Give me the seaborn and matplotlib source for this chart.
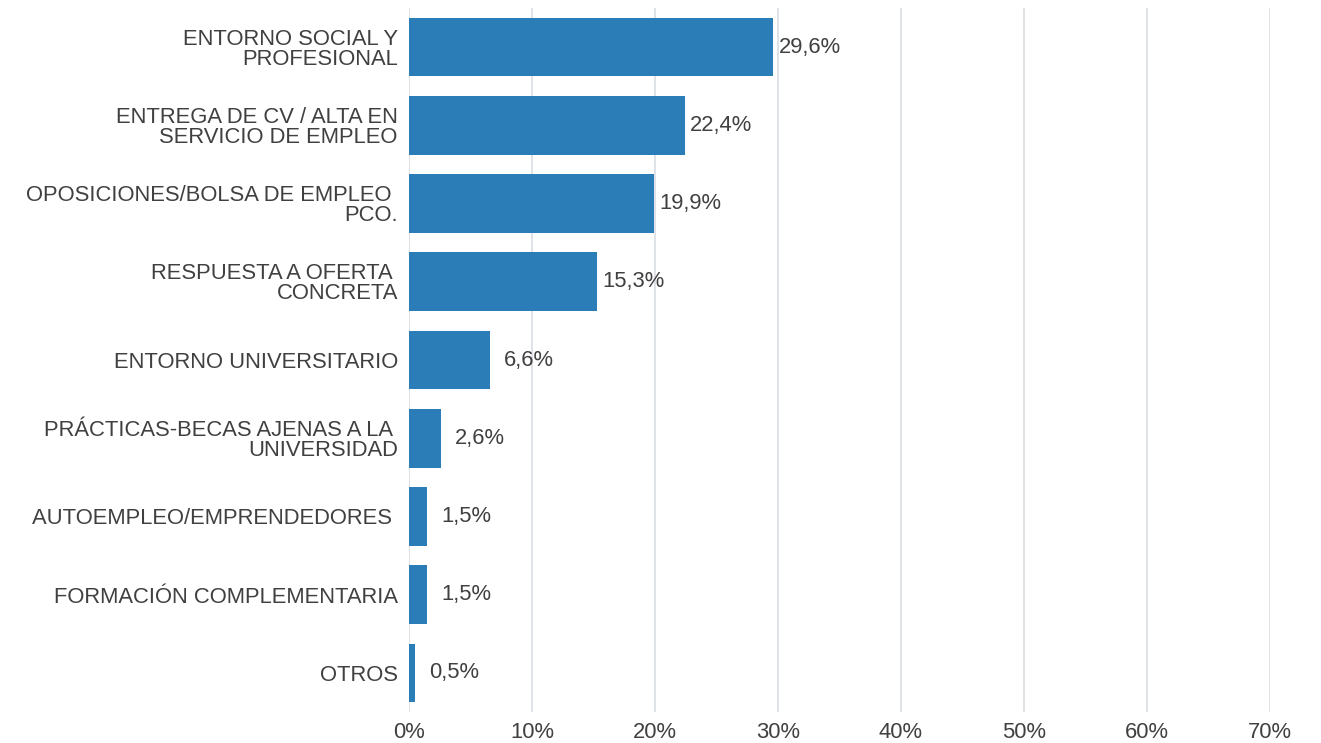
import matplotlib
matplotlib.use("Agg")
import matplotlib.pyplot as plt
import seaborn as sns
import pandas as pd

categories = [
    "ENTORNO SOCIAL Y\nPROFESIONAL",
    "ENTREGA DE CV / ALTA EN\nSERVICIO DE EMPLEO",
    "OPOSICIONES/BOLSA DE EMPLEO \nPCO.",
    "RESPUESTA A OFERTA \nCONCRETA",
    "ENTORNO UNIVERSITARIO",
    "PRÁCTICAS-BECAS AJENAS A LA \nUNIVERSIDAD",
    "AUTOEMPLEO/EMPRENDEDORES ",
    "FORMACIÓN COMPLEMENTARIA",
    "OTROS",
]
values = [29.6, 22.4, 19.9, 15.3, 6.6, 2.6, 1.5, 1.5, 0.5]
x_ticks = [0, 10, 20, 30, 40, 50, 60, 70]

BAR = "#2a7db6"
TEXT = "#404040"
GRID = "#d9dde3"
FS = 15.8

sns.set_theme(style="whitegrid")
plt.rcParams["font.family"] = ["Liberation Sans", "DejaVu Sans"]

df = pd.DataFrame({"cat": categories, "val": values})

fig = plt.figure(figsize=(13.21, 7.43), dpi=100)
ax = fig.add_axes([0.3096, 0.0417, 0.6518, 0.9475])

sns.barplot(data=df, y="cat", x="val", orient="h", color=BAR,
            saturation=1, width=0.75, linewidth=0, ax=ax)

ax.set_xlim(0, 70)
ax.set_ylim(len(categories) - 0.5, -0.5)
ax.set_xticks(x_ticks)
ax.set_xticklabels([f"{t}%" for t in x_ticks])
ax.set_xlabel("")
ax.set_ylabel("")

ax.grid(axis="x", color=GRID, linewidth=1.2)
ax.grid(axis="y", visible=False)
ax.set_axisbelow(True)
for s in ax.spines.values():
    s.set_visible(False)

ax.tick_params(axis="y", length=0, pad=8, labelsize=FS, labelcolor=TEXT)
ax.tick_params(axis="x", length=0, pad=7, labelsize=FS, labelcolor=TEXT)
for lbl in ax.get_yticklabels():
    lbl.set_linespacing(0.95)

# value labels at the end of each bar
for bar, v in zip(ax.patches, values):
    offset = 4 if v >= 10 else 10
    ax.annotate(f"{v:.1f}%".replace(".", ","),
                xy=(bar.get_width(), bar.get_y() + bar.get_height() / 2),
                xytext=(offset, 0), textcoords="offset points",
                ha="left", va="center", fontsize=FS, color=TEXT)

fig.savefig("out.png", dpi=100)
